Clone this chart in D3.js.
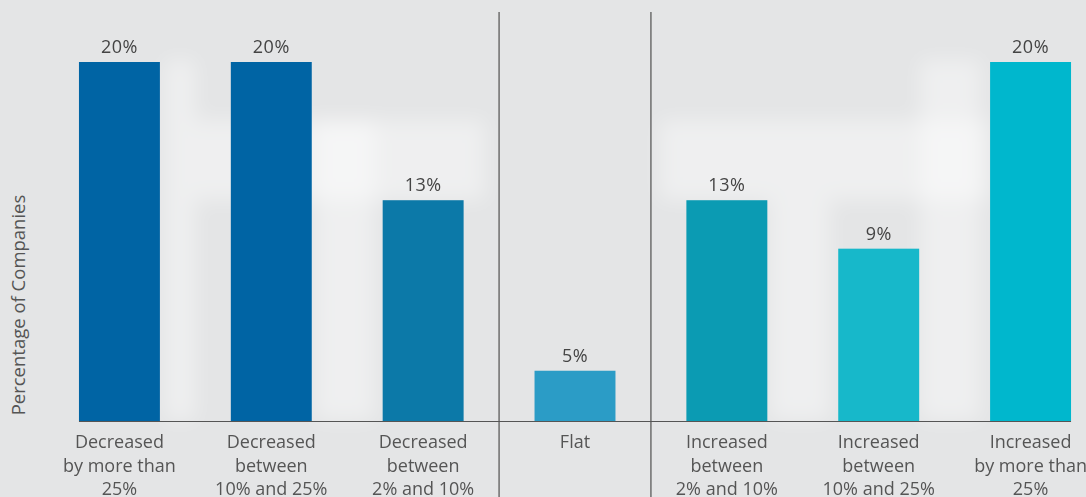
<!DOCTYPE html>
<html>
<head>
<meta charset="utf-8">
<script src="https://cdn.jsdelivr.net/npm/d3@7"></script>
<style>
  body { margin: 0; background: #e4e5e6; }
  text { font-family: "Open Sans", "Noto Sans", sans-serif; }
</style>
</head>
<body>
<script>
var categories = [
  ["Decreased", "by more than", "25%"],
  ["Decreased", "between", "10% and 25%"],
  ["Decreased", "between", "2% and 10%"],
  ["Flat"],
  ["Increased", "between", "2% and 10%"],
  ["Increased", "between", "10% and 25%"],
  ["Increased", "by more than", "25%"]
];
// bar heights as drawn in the picture, and the printed labels
var values = [20, 20, 12.3, 2.8, 12.3, 9.6, 20];
var valueLabels = ["20%", "20%", "13%", "5%", "13%", "9%", "20%"];
var colors = ["#0064a4", "#0064a4", "#0c79a8", "#2b9cc6", "#0b9bb3", "#17b8ca", "#00b7cd"];
var yTitle = "Percentage of Companies";

var width = 1086, height = 497;
var baseY = 421, topY = 62;

var svg = d3.select("body")
  .append("svg")
    .attr("width", width)
    .attr("height", height);

// soft photo-like background patches
var defs = svg.append("defs");
defs.append("filter").attr("id", "blur")
    .attr("x", "-20%").attr("y", "-20%")
    .attr("width", "140%").attr("height", "140%")
  .append("feGaussianBlur").attr("stdDeviation", 10);
var patches = [
  [195, 120, 290, 80], [660, 120, 330, 80], [165, 60, 30, 360],
  [920, 60, 60, 360], [315, 120, 60, 300], [770, 200, 60, 220]
];
svg.append("g").attr("filter", "url(#blur)")
  .selectAll("rect")
  .data(patches)
  .enter()
  .append("rect")
    .attr("x", function(d) { return d[0]; })
    .attr("y", function(d) { return d[1]; })
    .attr("width", function(d) { return d[2]; })
    .attr("height", function(d) { return d[3]; })
    .style("fill", "#ffffff")
    .style("opacity", 0.4);

var x = d3.scaleBand()
  .domain(d3.range(categories.length))
  .range([41, 1109])
  .paddingInner(0.467)
  .paddingOuter(0.25);

var y = d3.scaleLinear()
  .domain([0, 20])
  .range([baseY, topY]);

// group separators around "Flat"
var gap = (x.step() - x.bandwidth()) / 2;
[2, 3].forEach(function(i) {
  var sx = x(i) + x.bandwidth() + gap;
  svg.append("line")
    .attr("x1", sx).attr("x2", sx)
    .attr("y1", 12).attr("y2", height)
    .style("stroke", "#5a5a5a")
    .style("stroke-width", 1.3);
});

svg.append("g")
  .selectAll("rect")
  .data(values)
  .enter()
  .append("rect")
    .attr("x", function(d, i) { return x(i); })
    .attr("y", function(d) { return y(d); })
    .attr("width", x.bandwidth())
    .attr("height", function(d) { return baseY - y(d); })
    .style("fill", function(d, i) { return colors[i]; });

svg.append("line")
  .attr("x1", x(0)).attr("x2", x(categories.length - 1) + x.bandwidth())
  .attr("y1", baseY + 0.5).attr("y2", baseY + 0.5)
  .style("stroke", "#555")
  .style("stroke-width", 1.2);

svg.append("g")
  .selectAll("text")
  .data(values)
  .enter()
  .append("text")
    .attr("x", function(d, i) { return x(i) + x.bandwidth() / 2; })
    .attr("y", function(d) { return y(d) - 9; })
    .style("text-anchor", "middle")
    .style("font-size", "18px")
    .style("letter-spacing", "0.5px")
    .style("fill", "#444")
    .text(function(d, i) { return valueLabels[i]; });

var labels = svg.append("g")
  .selectAll("text")
  .data(categories)
  .enter()
  .append("text")
    .attr("x", function(d, i) { return x(i) + x.bandwidth() / 2; })
    .attr("y", 448)
    .style("text-anchor", "middle")
    .style("font-size", "18px")
    .style("fill", "#555");
labels.selectAll("tspan")
  .data(function(d) { return d; })
  .enter()
  .append("tspan")
    .attr("x", function() { return d3.select(this.parentNode).attr("x"); })
    .attr("dy", function(d, j) { return j === 0 ? 0 : 23.5; })
    .text(function(d) { return d; });

svg.append("text")
  .attr("transform", "translate(25,305) rotate(-90)")
  .style("text-anchor", "middle")
  .style("font-size", "18.5px")
  .style("fill", "#555")
  .text(yTitle);
</script>
</body>
</html>
